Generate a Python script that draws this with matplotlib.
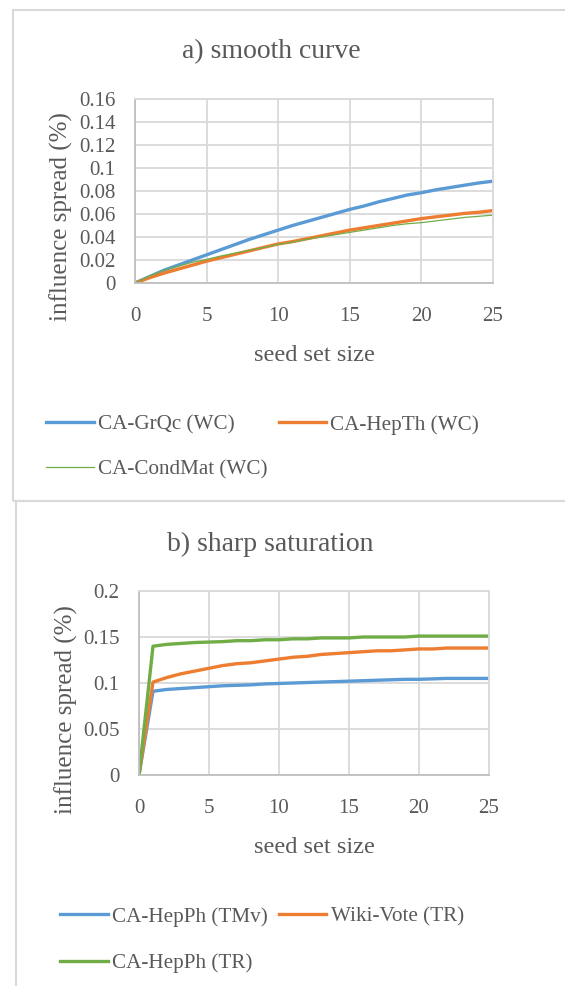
import numpy as np
import matplotlib
matplotlib.use('Agg')
import matplotlib.pyplot as plt
from matplotlib.patches import Rectangle

# ---- data ---------------------------------------------------------------
seeds = list(range(0, 26))

# a) smooth curve
grqc_wc = [0, 0.0055, 0.011, 0.0155, 0.020, 0.0245, 0.029, 0.0335, 0.038, 0.042,
           0.046, 0.050, 0.0535, 0.057, 0.0605, 0.064, 0.067, 0.0705, 0.0735, 0.0765,
           0.0785, 0.081, 0.083, 0.085, 0.087, 0.0885]
hepth_wc = [0, 0.0045, 0.0085, 0.012, 0.0155, 0.019, 0.022, 0.025, 0.028, 0.031,
            0.034, 0.036, 0.0385, 0.041, 0.0435, 0.046, 0.048, 0.050, 0.052, 0.054,
            0.056, 0.0575, 0.059, 0.0605, 0.0615, 0.063]
condmat_wc = [0, 0.006, 0.011, 0.0145, 0.018, 0.0205, 0.0235, 0.026, 0.0285, 0.031,
              0.0335, 0.0355, 0.038, 0.040, 0.042, 0.044, 0.046, 0.048, 0.050, 0.0515,
              0.0525, 0.054, 0.0555, 0.057, 0.058, 0.059]

# b) sharp saturation
hepph_tmv = [0, 0.091, 0.093, 0.094, 0.095, 0.096, 0.097, 0.0975, 0.098, 0.099,
             0.0995, 0.100, 0.1005, 0.101, 0.1015, 0.102, 0.1025, 0.103, 0.1035, 0.104,
             0.104, 0.1045, 0.105, 0.105, 0.105, 0.105]
wiki_tr = [0, 0.101, 0.106, 0.110, 0.113, 0.116, 0.119, 0.121, 0.122, 0.124,
           0.126, 0.128, 0.129, 0.131, 0.132, 0.133, 0.134, 0.135, 0.135, 0.136,
           0.137, 0.137, 0.138, 0.138, 0.138, 0.138]
hepph_tr = [0, 0.140, 0.142, 0.143, 0.144, 0.1445, 0.145, 0.146, 0.146, 0.147,
            0.147, 0.148, 0.148, 0.149, 0.149, 0.149, 0.150, 0.150, 0.150, 0.150,
            0.151, 0.151, 0.151, 0.151, 0.151, 0.151]

yticks_a = [0, 0.02, 0.04, 0.06, 0.08, 0.1, 0.12, 0.14, 0.16]
yticks_b = [0, 0.05, 0.1, 0.15, 0.2]
xticks = [0, 5, 10, 15, 20, 25]

# ---- style ----------------------------------------------------------------
BLUE = '#5B9BD5'
ORANGE = '#ED7D31'
GREEN = '#70AD47'
GRID = '#D9D9D9'
TXT = '#595959'
plt.rcParams['font.family'] = ['Liberation Serif', 'DejaVu Serif']
plt.rcParams['text.color'] = TXT

W, H = 565, 986
fig = plt.figure(figsize=(W / 100, H / 100), dpi=100)


def px_axes(x0, y0, x1, y1):
    return fig.add_axes([x0 / W, 1 - y1 / H, (x1 - x0) / W, (y1 - y0) / H])


def style(ax, yticks, ylab_x, ylab_y):
    ax.set_xlim(0, 25)
    ax.set_ylim(yticks[0], yticks[-1])
    ax.set_xticks(xticks)
    ax.set_yticks(yticks)
    ax.set_yticklabels([('%g' % v) for v in yticks])
    ax.grid(True, color=GRID, lw=1.3)
    ax.set_axisbelow(True)
    for s in ax.spines.values():
        s.set_color(GRID)
        s.set_linewidth(1.3)
    ax.spines['bottom'].set_color('#BFBFBF')
    ax.spines['left'].set_color('#BFBFBF')
    ax.tick_params(length=0, labelsize=15, labelcolor=TXT)
    ax.tick_params(axis='x', pad=17)
    ax.tick_params(axis='y', pad=14)
    ax.set_xlabel('seed set size', fontsize=17.5, color=TXT)
    ax.set_ylabel('influence spread (%)', fontsize=18, color=TXT)
    ax.xaxis.set_label_coords(0.5, -0.336)
    ax.yaxis.set_label_coords(ylab_x, ylab_y)


# panel borders
fig.patches.append(Rectangle((13 / W, 1 - 501 / H), 1, 491 / H, transform=fig.transFigure,
                             fill=False, ec=GRID, lw=1.5))
fig.patches.append(Rectangle((16 / W, -0.01), 1, 1 - 501 / H + 0.01, transform=fig.transFigure,
                             fill=False, ec=GRID, lw=1.5))

# ---- a) smooth curve --------------------------------------------------------
ax1 = px_axes(135, 99, 493, 283)
style(ax1, yticks_a, -0.172, 0.36)
l1, = ax1.plot(seeds, grqc_wc, color=BLUE, lw=2.4, label='CA-GrQc (WC)')
l2, = ax1.plot(seeds, hepth_wc, color=ORANGE, lw=2.4, label='CA-HepTh (WC)')
l3, = ax1.plot(seeds, condmat_wc, color=GREEN, lw=0.9, label='CA-CondMat (WC)')
fig.text(271 / W, 1 - 52 / H, 'a) smooth curve', ha='center', va='center', fontsize=20, color=TXT)
fig.legend([l1, l3, l2], [l1.get_label(), l3.get_label(), l2.get_label()],
           loc='upper left', bbox_to_anchor=(46 / W, 1 - 415 / H), ncol=2, frameon=False,
           fontsize=15.2, handlelength=2.25, handletextpad=0.2, columnspacing=0.54,
           labelspacing=1.18, borderpad=0, borderaxespad=0, labelcolor=TXT)

# ---- b) sharp saturation ----------------------------------------------------
ax2 = px_axes(139, 591, 489, 775)
style(ax2, yticks_b, -0.174, 0.353)
m1, = ax2.plot(seeds, hepph_tmv, color=BLUE, lw=2.4, label='CA-HepPh (TMv)')
m2, = ax2.plot(seeds, wiki_tr, color=ORANGE, lw=2.4, label='Wiki-Vote (TR)')
m3, = ax2.plot(seeds, hepph_tr, color=GREEN, lw=2.4, label='CA-HepPh (TR)')
fig.text(270 / W, 1 - 544 / H, 'b) sharp saturation', ha='center', va='center', fontsize=20, color=TXT)
fig.legend([m1, m3, m2], [m1.get_label(), m3.get_label(), m2.get_label()],
           loc='upper left', bbox_to_anchor=(60 / W, 1 - 907 / H), ncol=2, frameon=False,
           fontsize=15.2, handlelength=2.25, handletextpad=0.2, columnspacing=0.54,
           labelspacing=1.27, borderpad=0, borderaxespad=0, labelcolor=TXT)

fig.savefig('out.png', dpi=100, facecolor='white')
